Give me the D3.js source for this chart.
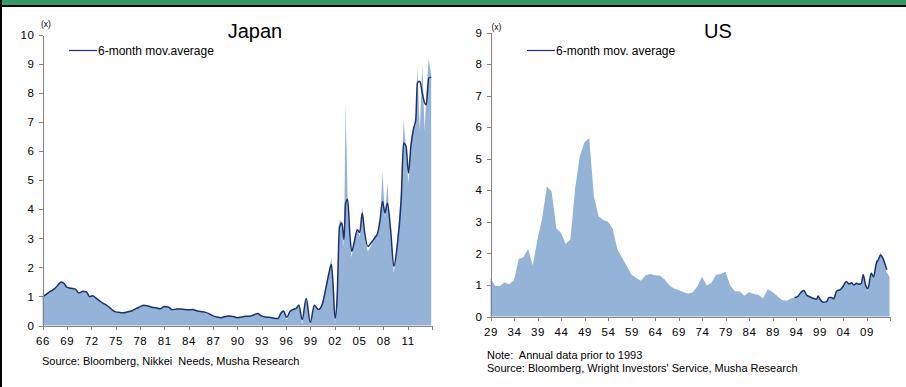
<!DOCTYPE html>
<html>
<head>
<meta charset="utf-8">
<script src="https://cdn.jsdelivr.net/npm/d3@7/dist/d3.min.js"></script>
<style>
	body { margin: 0; background: #fff; }
	text { font-family: "Liberation Sans", Arial, sans-serif; }
	.axis path, .axis line { stroke: #868686; shape-rendering: crispEdges; }
	.axis text { font-size: 11.5px; fill: #000; letter-spacing: 0.6px; }
</style>
</head>
<body>
<script>
// Japan: monthly ratio (area) and 6-month moving average (line)
var jpYears = [1966.0, 1966.5, 1967.0, 1967.5, 1968.0, 1968.3, 1968.7, 1969.0, 1969.5, 1970.0,
	1970.5, 1971.0, 1971.4, 1971.8, 1972.2, 1972.6, 1973.0, 1973.5, 1974.0, 1974.5,
	1975.0, 1975.5, 1976.0, 1976.5, 1977.0, 1977.5, 1978.0, 1978.5, 1979.0, 1979.5,
	1980.0, 1980.5, 1981.0, 1981.5, 1982.0, 1982.5, 1983.0, 1983.5, 1984.0, 1984.5,
	1985.0, 1985.5, 1986.0, 1986.5, 1987.0, 1987.5, 1988.0, 1988.5, 1989.0, 1989.5,
	1990.0, 1990.5, 1991.0, 1991.5, 1992.0, 1992.5, 1993.0, 1993.5, 1994.0, 1994.5,
	1995.0, 1995.4, 1995.7, 1996.1, 1996.5, 1996.9, 1997.3, 1997.6, 1998.0, 1998.5,
	1999.0, 1999.5, 2000.0, 2000.5, 2001.0, 2001.3, 2001.6, 2001.8, 2002.05, 2002.3,
	2002.6, 2002.9, 2003.15, 2003.35, 2003.6, 2003.9, 2004.1, 2004.4, 2004.8, 2005.1,
	2005.4, 2005.7, 2006.1, 2006.5, 2006.9, 2007.3, 2007.6, 2007.9, 2008.2, 2008.5,
	2008.9, 2009.3, 2009.7, 2010.2, 2010.5, 2010.8, 2011.1, 2011.4, 2011.7, 2012.0,
	2012.2, 2012.5, 2012.8, 2013.1, 2013.3, 2013.6, 2013.9];
var jpRatio = [1.00, 1.10, 1.20, 1.28, 1.45, 1.52, 1.42, 1.30, 1.30, 1.24,
	1.10, 1.20, 1.14, 0.98, 1.03, 0.93, 0.86, 0.76, 0.67, 0.55,
	0.46, 0.45, 0.43, 0.47, 0.50, 0.58, 0.65, 0.71, 0.66, 0.63,
	0.60, 0.56, 0.67, 0.63, 0.52, 0.58, 0.57, 0.55, 0.53, 0.55,
	0.50, 0.48, 0.46, 0.40, 0.32, 0.28, 0.26, 0.32, 0.34, 0.31,
	0.26, 0.29, 0.33, 0.31, 0.37, 0.42, 0.32, 0.28, 0.28, 0.24,
	0.23, 0.47, 0.52, 0.20, 0.50, 0.57, 0.62, 0.76, 0.04, 1.00,
	0.02, 0.74, 0.50, 0.80, 1.45, 1.85, 2.35, 1.40, 0.05, 1.20,
	3.65, 3.55, 2.70, 7.60, 4.40, 2.75, 2.35, 2.95, 3.35, 3.05,
	4.10, 3.05, 2.55, 2.75, 3.10, 3.15, 3.55, 5.30, 3.70, 4.90,
	3.10, 1.80, 2.90, 4.60, 7.10, 6.00, 4.90, 6.40, 6.80, 6.90,
	8.90, 6.70, 9.00, 6.70, 8.00, 9.20, 8.60];
var jpAvg = [0.98, 1.08, 1.18, 1.27, 1.42, 1.50, 1.44, 1.32, 1.28, 1.26,
	1.12, 1.18, 1.16, 1.00, 1.02, 0.94, 0.86, 0.76, 0.68, 0.56,
	0.47, 0.45, 0.44, 0.47, 0.50, 0.58, 0.64, 0.70, 0.67, 0.63,
	0.61, 0.58, 0.65, 0.64, 0.54, 0.57, 0.57, 0.55, 0.54, 0.55,
	0.51, 0.48, 0.46, 0.41, 0.33, 0.29, 0.27, 0.31, 0.33, 0.31,
	0.27, 0.29, 0.32, 0.32, 0.36, 0.41, 0.33, 0.29, 0.28, 0.25,
	0.24, 0.43, 0.50, 0.28, 0.48, 0.55, 0.60, 0.70, 0.20, 0.93,
	0.10, 0.70, 0.55, 0.75, 1.40, 1.80, 2.10, 1.45, 0.25, 0.90,
	3.40, 3.53, 2.95, 4.20, 4.35, 3.05, 2.55, 2.85, 3.30, 3.20,
	3.87, 3.20, 2.72, 2.85, 3.00, 3.18, 3.64, 4.27, 3.87, 4.21,
	3.29, 2.03, 2.72, 4.33, 6.28, 6.17, 5.25, 6.17, 6.74, 7.09,
	8.35, 8.41, 8.00, 7.66, 7.60, 8.52, 8.55];

// US: annual data before 1993, monthly after
var usYears = [1929, 1930, 1931, 1932, 1933, 1934, 1935, 1936, 1937, 1938,
	1939, 1940, 1941, 1942, 1943, 1944, 1945, 1946, 1947, 1948,
	1949, 1950, 1951, 1952, 1953, 1954, 1955, 1956, 1957, 1958,
	1959, 1960, 1961, 1962, 1963, 1964, 1965, 1966, 1967, 1968,
	1969, 1970, 1971, 1972, 1973, 1974, 1975, 1976, 1977, 1978,
	1979, 1980, 1981, 1982, 1983, 1984, 1985, 1986, 1987, 1988,
	1989, 1990, 1991, 1992, 1993,
	1993.7, 1994.4, 1995.2, 1995.7, 1996.2, 1996.9, 1997.6, 1998.4, 1998.7, 1999.1,
	1999.8, 2000.5, 2001.0, 2001.5, 2002.0, 2002.7, 2003.3, 2004.0, 2004.7, 2005.3,
	2005.8, 2006.3, 2006.9, 2007.4, 2007.9, 2008.3, 2008.8, 2009.3, 2010.0, 2010.5,
	2011.1, 2011.5, 2012.0, 2012.5, 2013.3, 2013.9];
var usRatio = [1.21, 0.97, 0.97, 1.08, 1.02, 1.15, 1.82, 1.88, 2.14, 1.62,
	2.45, 3.12, 4.13, 3.96, 2.80, 2.65, 2.30, 2.45, 4.05, 5.08,
	5.52, 5.66, 3.80, 3.18, 3.06, 3.00, 2.78, 2.12, 1.86, 1.60,
	1.32, 1.22, 1.13, 1.31, 1.35, 1.31, 1.30, 1.18, 1.00, 0.89,
	0.84, 0.78, 0.73, 0.76, 0.95, 1.26, 0.98, 1.07, 1.32, 1.35,
	1.42, 0.98, 0.80, 0.80, 0.66, 0.77, 0.72, 0.68, 0.58, 0.86,
	0.78, 0.65, 0.52, 0.50, 0.58,
	0.60, 0.65, 0.80, 0.83, 0.69, 0.63, 0.57, 0.55, 0.66, 0.54,
	0.44, 0.47, 0.61, 0.59, 0.56, 0.83, 0.84, 0.96, 1.12, 1.03,
	1.08, 0.99, 1.06, 1.01, 1.06, 1.38, 0.98, 0.80, 1.42, 1.24,
	1.80, 1.78, 2.02, 1.85, 1.40, 1.25];
var usAvgYears = [1993.7, 1994.4, 1995.2, 1995.7, 1996.2, 1996.9, 1997.6, 1998.4, 1998.7, 1999.1,
	1999.8, 2000.5, 2001.0, 2001.5, 2002.0, 2002.7, 2003.3, 2004.0, 2004.7, 2005.3,
	2005.8, 2006.3, 2006.9, 2007.4, 2007.9, 2008.3, 2008.8, 2009.3, 2010.0, 2010.5,
	2011.1, 2011.5, 2012.0, 2012.5, 2013.3];
var usAvg = [0.60, 0.64, 0.79, 0.82, 0.69, 0.63, 0.58, 0.55, 0.65, 0.55,
	0.45, 0.47, 0.60, 0.60, 0.56, 0.82, 0.84, 0.95, 1.11, 1.03,
	1.07, 1.00, 1.05, 1.02, 1.05, 1.32, 1.00, 0.88, 1.37, 1.26,
	1.69, 1.79, 1.95, 1.84, 1.48];

// tick labels
var jpTickYears = d3.range(1966, 2015, 3);
var usTickYears = d3.range(1929, 2015, 5);

var width = 906,
	height = 387,
	areaColor = '#95b3d7',
	lineColor = '#1c3170';

var svg = d3.select('body')
	.append('svg')
	.attr('width', width)
	.attr('height', height);

// frame: green strip on top, black rules
svg.append('rect').attr('x', 0).attr('y', 0).attr('width', width).attr('height', 5).attr('fill', '#339966');
svg.append('rect').attr('x', 0).attr('y', 5).attr('width', width).attr('height', 2).attr('fill', '#000');
svg.append('rect').attr('x', 0).attr('y', 0).attr('width', 2).attr('height', height).attr('fill', '#000');

function yearLabel(d, lastYear) {
	if (d === lastYear) return '';
	return String(d % 100).padStart(2, '0');
}

function drawPanel(p) {
	var x = d3.scaleLinear().domain(p.xDomain).range(p.xRange);
	var y = d3.scaleLinear().domain([0, p.yMax]).range(p.yRange);

	var g = svg.append('g');

	// area for the raw ratio
	var area = d3.area()
		.x(function(d) { return x(d[0]); })
		.y0(y(0))
		.y1(function(d) { return y(d[1]); });

	g.append('path')
		.datum(d3.zip(p.years, p.values))
		.attr('fill', areaColor)
		.attr('d', area);

	// moving average line
	var line = d3.line()
		.x(function(d) { return x(d[0]); })
		.y(function(d) { return y(d[1]); })
		.curve(d3.curveMonotoneX);

	g.append('path')
		.datum(d3.zip(p.avgYears, p.avgValues))
		.attr('fill', 'none')
		.attr('stroke', lineColor)
		.attr('stroke-width', 1.5)
		.attr('stroke-linejoin', 'round')
		.attr('d', line);

	// axes
	var yAxis = d3.axisLeft(y)
		.tickValues(d3.range(0, p.yMax + 1))
		.tickSize(4)
		.tickSizeOuter(0)
		.tickPadding(4);

	g.append('g')
		.attr('class', 'axis')
		.attr('transform', 'translate(' + p.xRange[0] + ',0)')
		.call(yAxis);

	var lastTick = p.ticks[p.ticks.length - 1];
	var xAxis = d3.axisBottom(x)
		.tickValues(p.ticks)
		.tickFormat(function(d) { return yearLabel(d, lastTick); })
		.tickSize(4)
		.tickSizeOuter(0)
		.tickPadding(7);

	g.append('g')
		.attr('class', 'axis')
		.attr('transform', 'translate(0,' + p.yRange[0] + ')')
		.call(xAxis);

	// unit label
	g.append('text')
		.attr('x', p.xRange[0] + p.unitDx)
		.attr('y', p.unitY)
		.attr('font-size', '8.5px')
		.attr('fill', '#000')
		.text('(x)');

	// title
	g.append('text')
		.attr('x', p.titleX)
		.attr('y', 38)
		.attr('text-anchor', 'middle')
		.attr('font-size', '20px')
		.attr('fill', '#000')
		.text(p.title);

	// legend
	g.append('line')
		.attr('x1', p.legendX).attr('x2', p.legendX + 28)
		.attr('y1', 50.5).attr('y2', 50.5)
		.attr('stroke', lineColor)
		.attr('stroke-width', 1.2);

	g.append('text')
		.attr('x', p.legendX + 29)
		.attr('y', 54.5)
		.attr('font-size', '12px')
		.attr('fill', '#000')
		.text(p.legendText);

	// notes under the chart
	p.notes.forEach(function(t, i) {
		g.append('text')
			.attr('x', p.noteX)
			.attr('y', p.noteY + i * 12.5)
			.attr('font-size', '11px')
			.attr('fill', '#000')
			.attr('xml:space', 'preserve')
			.style('white-space', 'pre')
			.text(t);
	});
}

drawPanel({
	title: 'Japan',
	titleX: 255,
	years: jpYears,
	values: jpRatio,
	avgYears: jpYears,
	avgValues: jpAvg,
	xDomain: [1966, 2014],
	xRange: [42.5, 432],
	yMax: 10,
	yRange: [325.5, 35],
	ticks: jpTickYears,
	unitDx: -1.5,
	unitY: 27,
	legendX: 69,
	legendText: '6-month mov.average',
	noteX: 42,
	noteY: 365,
	notes: ['Source: Bloomberg, Nikkei  Needs, Musha Research']
});

drawPanel({
	title: 'US',
	titleX: 718,
	years: usYears,
	values: usRatio,
	avgYears: usAvgYears,
	avgValues: usAvg,
	xDomain: [1929, 2014],
	xRange: [490.5, 890],
	yMax: 9,
	yRange: [316.5, 32.5],
	ticks: usTickYears,
	unitDx: 1,
	unitY: 30,
	legendX: 527,
	legendText: '6-month mov. average',
	noteX: 487,
	noteY: 359,
	notes: ['Note:  Annual data prior to 1993', 'Source: Bloomberg, Wright Investors\' Service, Musha Research']
});
</script>
</body>
</html>
